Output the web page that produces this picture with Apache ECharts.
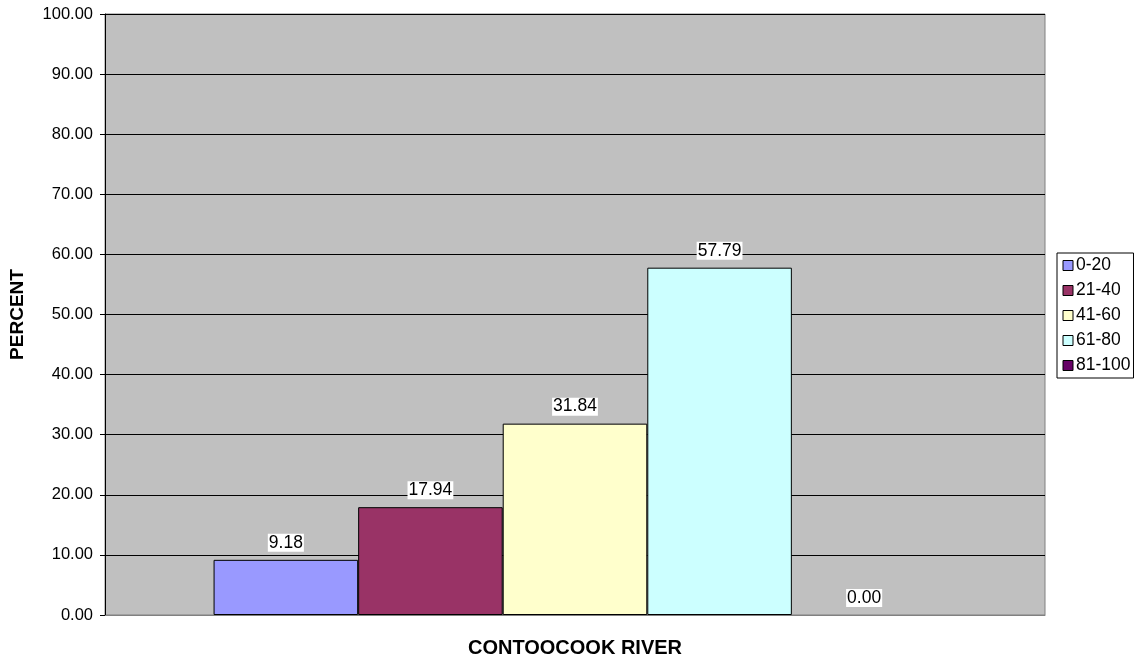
<!DOCTYPE html>
<html><head><meta charset="utf-8">
<script src="https://cdn.jsdelivr.net/npm/echarts@6/dist/echarts.min.js"></script>
<style>html,body{margin:0;padding:0;background:#fff}#c{width:1134px;height:661px}</style>
</head><body><div id="c"></div>
<script>
const categories = ['CONTOOCOOK RIVER'];
const seriesNames = ['0-20', '21-40', '41-60', '61-80', '81-100'];
const seriesValues = [[9.18], [17.94], [31.84], [57.79], [0.00]];
const seriesColors = ['#9999ff', '#993366', '#ffffcc', '#ccffff', '#660066'];
const yTicks = { min: 0, max: 100, interval: 10 };

const font = 'Liberation Sans, Arial, sans-serif';
const chart = echarts.init(document.getElementById('c'));
chart.setOption({
  animation: false,
  textStyle: { fontFamily: font },
  grid: { left: 105, right: 89, top: 14, bottom: 46, outerBoundsMode: 'none', containLabel: false,
          show: true, backgroundColor: '#c0c0c0', borderColor: '#808080', borderWidth: 1 },
  legend: {
    orient: 'vertical', left: 1057, top: 253,
    data: seriesNames,
    itemWidth: 10, itemHeight: 10, itemGap: 7,
    padding: [3.5, 3, 3.5, 5.5],
    borderColor: '#000', borderWidth: 1,
    itemStyle: { borderColor: '#000', borderWidth: 1 },
    textStyle: { fontSize: 17.5, color: '#000', fontFamily: font, lineHeight: 17, padding: [0, 0, 0, -2] },
    icon: 'rect'
  },
  xAxis: {
    type: 'category', data: categories,
    name: 'CONTOOCOOK RIVER', nameLocation: 'middle', nameGap: 23,
    nameTextStyle: { fontWeight: 'bold', fontSize: 20, color: '#000', fontFamily: font },
    axisLabel: { show: false }, axisTick: { show: false },
    axisLine: { lineStyle: { color: '#808080' } }
  },
  yAxis: {
    type: 'value', min: yTicks.min, max: yTicks.max, interval: yTicks.interval,
    name: 'PERCENT', nameLocation: 'middle', nameGap: 78, nameRotate: 90,
    nameTextStyle: { fontWeight: 'bold', fontSize: 19, color: '#000', fontFamily: font },
    axisLine: { show: true, lineStyle: { color: '#000' } },
    axisTick: { show: true, length: 5, lineStyle: { color: '#000' } },
    axisLabel: { fontSize: 16.5, color: '#000', margin: 12, formatter: v => v.toFixed(2) },
    splitLine: { lineStyle: { color: '#000', width: 1 } }
  },
  series: seriesNames.map((n, i) => ({
    name: n, type: 'bar',
    data: seriesValues[i].map(v => v === 0 ? { value: v, itemStyle: { borderWidth: 0 } } : v),
    barGap: '0%', barCategoryGap: '23.1%',
    itemStyle: { color: seriesColors[i], borderColor: '#000', borderWidth: 1 },
    label: {
      show: true, position: 'top', distance: 8,
      formatter: p => Number(p.value).toFixed(2),
      fontSize: 17.5, color: '#000', backgroundColor: '#fff', padding: [0, 1, 0, 1], fontFamily: font
    }
  }))
});
</script></body></html>
